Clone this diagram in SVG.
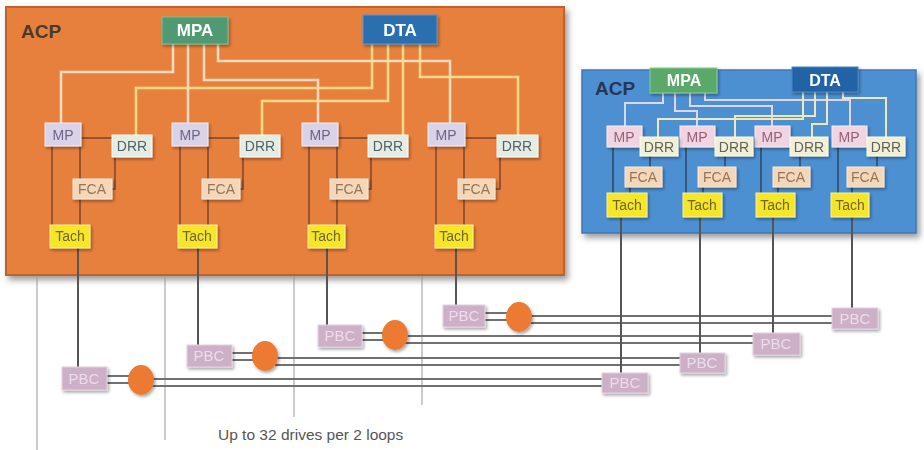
<svg xmlns="http://www.w3.org/2000/svg" width="924" height="450" viewBox="0 0 924 450">
<defs>
<filter id="psh" x="-5%" y="-5%" width="112%" height="120%"><feDropShadow dx="3" dy="4" stdDeviation="3" flood-color="#000" flood-opacity="0.4"/></filter>
<filter id="sh" x="-30%" y="-30%" width="170%" height="180%"><feDropShadow dx="1.5" dy="2" stdDeviation="1.5" flood-color="#000" flood-opacity="0.35"/></filter>
<style>
text{font-family:"Liberation Sans",Arial,sans-serif;text-anchor:middle}
.acp{font-size:19px;font-weight:bold;text-anchor:start}
.big{font-size:17px;fill:#fff;font-weight:bold}
.lbl{font-size:14px}
.mp rect{fill:#d9d3ea;stroke:#f2eef8;stroke-width:1}
.mp text{fill:#6e6486}
.mpr rect{fill:#f0d4e2;stroke:#fbeef4;stroke-width:1}
.mpr text{fill:#94607a}
.drr rect{fill:#e4ece4;stroke:#fafcf8;stroke-width:1}
.drr text{fill:#52626a}
.drrr rect{fill:#f1f0d6;stroke:#fcfbee;stroke-width:1}
.drrr text{fill:#62625a}
.fca rect{fill:#f4d6b8;stroke:#fbeadb;stroke-width:1}
.fca text{fill:#94745a}
.tach rect{fill:#f5e62a;stroke:#fbf29a;stroke-width:1}
.tach text{fill:#74642a}
.pbc rect{fill:#cdb0c8;stroke:#e4d2e0;stroke-width:1}
.pbc text{fill:#ecdcea;font-size:15px}
.node{filter:url(#sh)}
.mpa{stroke:#f7dcc4;stroke-width:2.5;fill:none}
.dta{stroke:#f9d98a;stroke-width:2.5;fill:none}
.mpar{stroke:#ddd6ee;stroke-width:2;fill:none}
.dtar{stroke:#eee8bc;stroke-width:2;fill:none}
.inl{stroke:#7a4530;stroke-width:1.5;fill:none}
.inr{stroke:#2e4058;stroke-width:1.4;fill:none}
.drop{stroke:#555;stroke-width:2;fill:none}
.bus{stroke:#707070;stroke-width:2.2;fill:none}
.thin{stroke:#999;stroke-width:1;fill:none}
.hub{fill:#ec7a32;filter:url(#sh)}
</style>
</defs>
<rect width="924" height="450" fill="#fff"/>

<g id="acp-left">
<rect x="6" y="7" width="558" height="268" fill="#e8803e" stroke="#c0622a" stroke-width="2" filter="url(#psh)"/>
<text class="acp" x="21" y="38" fill="#4a3a2e">ACP</text>
</g>
<g id="acp-right">
<rect x="582" y="70" width="334" height="163" fill="#4e90d2" stroke="#3a78b8" stroke-width="1.5" filter="url(#psh)"/>
<text class="acp" x="595" y="95" fill="#2a3550">ACP</text>
</g>

<g id="connectors">
<path class="thin" d="M37,276 V450 M165,276 V440 M294,276 V417 M422,276 V405"/>
<path class="mpa" d="M173,44 V72 H61 V123 M188,44 V123 M204,44 V80 H318 V123 M218,44 V61 H450 V123"/>
<path class="dta" d="M372,44 V88 H136 V135 M388,44 V101 H262 V135 M403,44 V135 M420,44 V77 H518 V135"/>
<path class="inl" d="M52,146 V225 M80,146 V225 M81,138 H112 M115,157 V189 H112"/>
<path class="inl" d="M180,146 V225 M208,146 V225 M208,138 H240 M243,157 V189 H240"/>
<path class="inl" d="M309,146 V225 M337,146 V225 M338,138 H368 M371,157 V189 H368"/>
<path class="inl" d="M436,146 V225 M464,146 V225 M465,138 H497 M500,157 V189 H495"/>
<path class="mpar" d="M663,93 V103 H625 V126 M675,93 V111 H697 V126 M690,93 V106 H772 V126 M705,93 V100 H850 V126"/>
<path class="dtar" d="M803,92 V119 H658 V137 M815,92 V116 H735 V137 M827,92 V124 H812 V137 M843,92 V98 H886 V137"/>
<path class="inr" d="M613,147 V193 M650,156 V167 M630,187 V193"/>
<path class="inr" d="M686,147 V193 M725,156 V167 M703,187 V193"/>
<path class="inr" d="M761,147 V193 M800,156 V167 M778,187 V193"/>
<path class="inr" d="M838,147 V193 M877,156 V167 M852,187 V193"/>
<path class="bus" d="M107,376 H130 M107,383 H130 M150,379 H602 M150,386 H602"/>
<path class="bus" d="M232,353 H255 M232,360 H255 M275,358 H680 M275,365 H680"/>
<path class="bus" d="M362,333 H385 M362,340 H385 M405,336 H753 M405,343 H753"/>
<path class="bus" d="M485,313 H508 M485,320 H508 M530,316 H832 M530,323 H832"/>
<path class="drop" d="M78,248 V367 M198,248 V345 M327,248 V325 M456,248 V305"/>
<path class="drop" d="M621,217 V373 M700,217 V353 M773,217 V333 M852,217 V308"/>
</g>

<g id="mpa-left" class="node"><rect x="162" y="17" width="66" height="27" fill="#4f9a72" stroke="#7cc09a" stroke-width="1"/><text class="big" x="195" y="36">MPA</text></g>
<g id="dta-left" class="node"><rect x="363" y="15" width="74" height="29" fill="#2a6fb0" stroke="#5a96cc" stroke-width="1"/><text class="big" x="400" y="36">DTA</text></g>

<g id="mp-l1" class="node mp"><rect x="45" y="123" width="36" height="23"/><text class="lbl" x="63" y="140">MP</text></g>
<g id="mp-l2" class="node mp"><rect x="172" y="123" width="36" height="23"/><text class="lbl" x="190" y="140">MP</text></g>
<g id="mp-l3" class="node mp"><rect x="302" y="123" width="36" height="23"/><text class="lbl" x="320" y="140">MP</text></g>
<g id="mp-l4" class="node mp"><rect x="428" y="123" width="37" height="23"/><text class="lbl" x="446" y="140">MP</text></g>

<g id="drr-l1" class="node drr"><rect x="112" y="135" width="40" height="22"/><text class="lbl" x="132" y="151">DRR</text></g>
<g id="drr-l2" class="node drr"><rect x="240" y="135" width="40" height="22"/><text class="lbl" x="260" y="151">DRR</text></g>
<g id="drr-l3" class="node drr"><rect x="368" y="135" width="40" height="22"/><text class="lbl" x="388" y="151">DRR</text></g>
<g id="drr-l4" class="node drr"><rect x="497" y="135" width="41" height="22"/><text class="lbl" x="517" y="151">DRR</text></g>

<g id="fca-l1" class="node fca"><rect x="73" y="179" width="39" height="20"/><text class="lbl" x="92" y="194">FCA</text></g>
<g id="fca-l2" class="node fca"><rect x="202" y="179" width="38" height="20"/><text class="lbl" x="221" y="194">FCA</text></g>
<g id="fca-l3" class="node fca"><rect x="330" y="179" width="38" height="20"/><text class="lbl" x="349" y="194">FCA</text></g>
<g id="fca-l4" class="node fca"><rect x="458" y="179" width="37" height="20"/><text class="lbl" x="476" y="194">FCA</text></g>

<g id="tach-l1" class="node tach"><rect x="50" y="225" width="40" height="23"/><text class="lbl" x="70" y="241">Tach</text></g>
<g id="tach-l2" class="node tach"><rect x="178" y="225" width="39" height="23"/><text class="lbl" x="197" y="241">Tach</text></g>
<g id="tach-l3" class="node tach"><rect x="308" y="225" width="37" height="23"/><text class="lbl" x="326" y="241">Tach</text></g>
<g id="tach-l4" class="node tach"><rect x="435" y="225" width="38" height="23"/><text class="lbl" x="454" y="241">Tach</text></g>

<g id="mpa-right" class="node"><rect x="650" y="68" width="67" height="25" fill="#5aa86a" stroke="#8ccc98" stroke-width="1"/><text class="big" x="684" y="86" style="font-size:16px">MPA</text></g>
<g id="dta-right" class="node"><rect x="792" y="67" width="66" height="25" fill="#2063a6" stroke="#4a88c4" stroke-width="1"/><text class="big" x="825" y="86" style="font-size:16px">DTA</text></g>

<g id="mp-r1" class="node mpr"><rect x="607" y="126" width="35" height="21"/><text class="lbl" x="624" y="142">MP</text></g>
<g id="mp-r2" class="node mpr"><rect x="680" y="126" width="35" height="21"/><text class="lbl" x="697" y="142">MP</text></g>
<g id="mp-r3" class="node mpr"><rect x="755" y="126" width="35" height="21"/><text class="lbl" x="772" y="142">MP</text></g>
<g id="mp-r4" class="node mpr"><rect x="832" y="126" width="35" height="21"/><text class="lbl" x="849" y="142">MP</text></g>

<g id="drr-r1" class="node drrr"><rect x="640" y="137" width="38" height="19"/><text class="lbl" x="659" y="152">DRR</text></g>
<g id="drr-r2" class="node drrr"><rect x="715" y="137" width="38" height="19"/><text class="lbl" x="734" y="152">DRR</text></g>
<g id="drr-r3" class="node drrr"><rect x="790" y="137" width="38" height="19"/><text class="lbl" x="809" y="152">DRR</text></g>
<g id="drr-r4" class="node drrr"><rect x="867" y="137" width="38" height="19"/><text class="lbl" x="886" y="152">DRR</text></g>

<g id="fca-r1" class="node fca"><rect x="625" y="167" width="37" height="20"/><text class="lbl" x="643" y="182">FCA</text></g>
<g id="fca-r2" class="node fca"><rect x="698" y="167" width="38" height="20"/><text class="lbl" x="717" y="182">FCA</text></g>
<g id="fca-r3" class="node fca"><rect x="773" y="167" width="37" height="20"/><text class="lbl" x="791" y="182">FCA</text></g>
<g id="fca-r4" class="node fca"><rect x="847" y="167" width="37" height="20"/><text class="lbl" x="865" y="182">FCA</text></g>

<g id="tach-r1" class="node tach"><rect x="607" y="193" width="40" height="24"/><text class="lbl" x="627" y="210">Tach</text></g>
<g id="tach-r2" class="node tach"><rect x="683" y="193" width="39" height="24"/><text class="lbl" x="702" y="210">Tach</text></g>
<g id="tach-r3" class="node tach"><rect x="756" y="193" width="39" height="24"/><text class="lbl" x="775" y="210">Tach</text></g>
<g id="tach-r4" class="node tach"><rect x="831" y="193" width="38" height="24"/><text class="lbl" x="850" y="210">Tach</text></g>

<g id="pbc-1" class="node pbc"><rect x="62" y="367" width="45" height="23"/><text x="84" y="384">PBC</text></g>
<g id="pbc-2" class="node pbc"><rect x="187" y="345" width="45" height="22"/><text x="209" y="361">PBC</text></g>
<g id="pbc-3" class="node pbc"><rect x="318" y="325" width="44" height="22"/><text x="340" y="341">PBC</text></g>
<g id="pbc-4" class="node pbc"><rect x="443" y="305" width="42" height="22"/><text x="464" y="321">PBC</text></g>
<g id="pbc-5" class="node pbc"><rect x="602" y="373" width="46" height="20"/><text x="625" y="388">PBC</text></g>
<g id="pbc-6" class="node pbc"><rect x="680" y="353" width="45" height="20"/><text x="702" y="368">PBC</text></g>
<g id="pbc-7" class="node pbc"><rect x="753" y="333" width="47" height="22"/><text x="776" y="349">PBC</text></g>
<g id="pbc-8" class="node pbc"><rect x="832" y="308" width="46" height="21"/><text x="855" y="324">PBC</text></g>

<g id="hub-1"><ellipse class="hub" cx="141" cy="380" rx="13" ry="15"/></g>
<g id="hub-2"><ellipse class="hub" cx="265" cy="356" rx="13" ry="15"/></g>
<g id="hub-3"><ellipse class="hub" cx="395" cy="335" rx="13" ry="15"/></g>
<g id="hub-4"><ellipse class="hub" cx="519" cy="317" rx="13" ry="15"/></g>

<text x="218" y="440" style="text-anchor:start;font-size:15.5px;fill:#555">Up to 32 drives per 2 loops</text>
</svg>
